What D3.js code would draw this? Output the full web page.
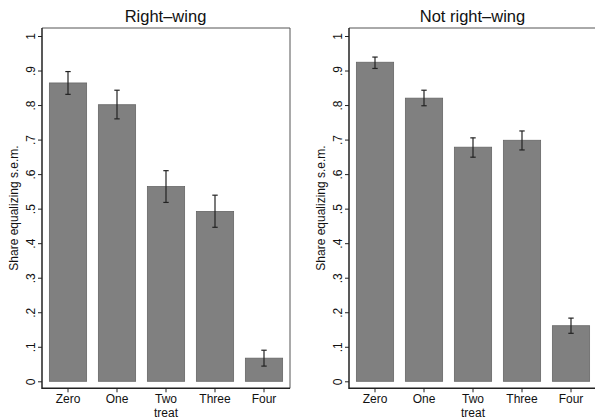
<!DOCTYPE html>
<html><head><meta charset="utf-8">
<script src="https://cdn.jsdelivr.net/npm/d3@7"></script>
<style>
html,body{margin:0;padding:0;background:#fff;}
svg{display:block;font-family:"Liberation Sans",Arial,sans-serif;}
</style></head>
<body>
<svg id="chart" width="595" height="419"></svg>
<script>
const categories = ["Zero", "One", "Two", "Three", "Four"];
const panelTitles = ["Right\u2013wing", "Not right\u2013wing"];
const rightWingMean = [0.864, 0.801, 0.564, 0.492, 0.067];
const rightWingLow  = [0.831, 0.760, 0.518, 0.446, 0.044];
const rightWingHigh = [0.897, 0.843, 0.610, 0.539, 0.090];
const notRightMean  = [0.924, 0.820, 0.678, 0.698, 0.161];
const notRightLow   = [0.906, 0.798, 0.649, 0.670, 0.139];
const notRightHigh  = [0.939, 0.843, 0.705, 0.725, 0.183];
const yTicks = [0, 0.1, 0.2, 0.3, 0.4, 0.5, 0.6, 0.7, 0.8, 0.9, 1];
const yTickLabels = ["0", ".1", ".2", ".3", ".4", ".5", ".6", ".7", ".8", ".9", "1"];
const yLabel = "Share equalizing s.e.m.";
const xLabel = "treat";

const panels = [
  {title: panelTitles[0], mean: rightWingMean, low: rightWingLow, high: rightWingHigh, left: 42},
  {title: panelTitles[1], mean: notRightMean, low: notRightLow, high: notRightHigh, left: 349}
];

const svg = d3.select("#chart");
const frameTop = 28, frameBottom = 388.3, pw = 248;
const y = d3.scaleLinear().domain([0, 1]).range([381.3, 36]);

panels.forEach(p => {
  const g = svg.append("g").attr("transform", `translate(${p.left},0)`);
  const x = d3.scaleBand().domain(categories).range([1.5, 246.5]).paddingInner(0.24).paddingOuter(0.12);

  // frame top & right
  g.append("line").attr("x1", 0).attr("x2", pw).attr("y1", frameTop).attr("y2", frameTop)
    .attr("stroke", "#555").attr("stroke-width", 1);
  g.append("line").attr("x1", pw).attr("x2", pw).attr("y1", frameTop).attr("y2", frameBottom)
    .attr("stroke", "#555").attr("stroke-width", 1);

  // bars
  g.selectAll("rect.bar").data(categories).join("rect")
    .attr("x", d => x(d)).attr("width", x.bandwidth())
    .attr("y", (d, i) => y(p.mean[i])).attr("height", (d, i) => y(0) - y(p.mean[i]))
    .attr("fill", "#808080").attr("stroke", "#666").attr("stroke-width", 0.8);

  // error bars
  const eb = g.selectAll("g.eb").data(categories).join("g");
  eb.append("line")
    .attr("x1", d => x(d) + x.bandwidth() / 2).attr("x2", d => x(d) + x.bandwidth() / 2)
    .attr("y1", (d, i) => y(p.low[i])).attr("y2", (d, i) => y(p.high[i]))
    .attr("stroke", "#222").attr("stroke-width", 1.2);
  [p.low, p.high].forEach(arr => {
    eb.append("line")
      .attr("x1", d => x(d) + x.bandwidth() / 2 - 2.7).attr("x2", d => x(d) + x.bandwidth() / 2 + 2.7)
      .attr("y1", (d, i) => y(arr[i])).attr("y2", (d, i) => y(arr[i]))
      .attr("stroke", "#222").attr("stroke-width", 1.2);
  });

  // y axis
  const ya = g.append("g").call(d3.axisLeft(y).tickValues(yTicks)
      .tickFormat((d, i) => yTickLabels[i]).tickSize(4).tickSizeOuter(0).tickPadding(0));
  ya.select(".domain").remove();
  ya.selectAll(".tick line").attr("stroke", "#222").attr("stroke-width", 1);
  ya.selectAll(".tick text")
    .attr("transform", "rotate(-90)")
    .attr("x", 0).attr("y", -7.5).attr("dy", 0)
    .attr("text-anchor", "middle")
    .attr("font-size", 12).attr("fill", "#111")
    .attr("font-family", "Liberation Sans, Arial, sans-serif");
  g.append("line").attr("x1", 0).attr("x2", 0).attr("y1", frameTop).attr("y2", frameBottom + 0.7)
    .attr("stroke", "#222").attr("stroke-width", 1.5);

  // x axis
  const xa = g.append("g").attr("transform", `translate(0,${frameBottom})`)
    .call(d3.axisBottom(x).tickSize(4).tickSizeOuter(0).tickPadding(2.3));
  xa.select(".domain").remove();
  xa.selectAll(".tick line").attr("stroke", "#222").attr("stroke-width", 1);
  xa.selectAll(".tick text").attr("font-size", 12).attr("fill", "#111")
    .attr("font-family", "Liberation Sans, Arial, sans-serif");
  g.append("line").attr("x1", 0).attr("x2", pw).attr("y1", frameBottom).attr("y2", frameBottom)
    .attr("stroke", "#222").attr("stroke-width", 1.5);

  g.append("text").attr("x", pw / 2).attr("y", 416.8).attr("text-anchor", "middle")
    .attr("font-size", 12).attr("fill", "#111").text(xLabel);

  g.append("text").attr("transform", `translate(-24,208) rotate(-90)`)
    .attr("text-anchor", "middle").attr("font-size", 12).attr("fill", "#111").text(yLabel);

  g.append("text").attr("x", pw / 2 - 0.5).attr("y", 22).attr("text-anchor", "middle")
    .attr("font-size", 16.5).attr("fill", "#111").text(p.title);
});
</script>
</body></html>
